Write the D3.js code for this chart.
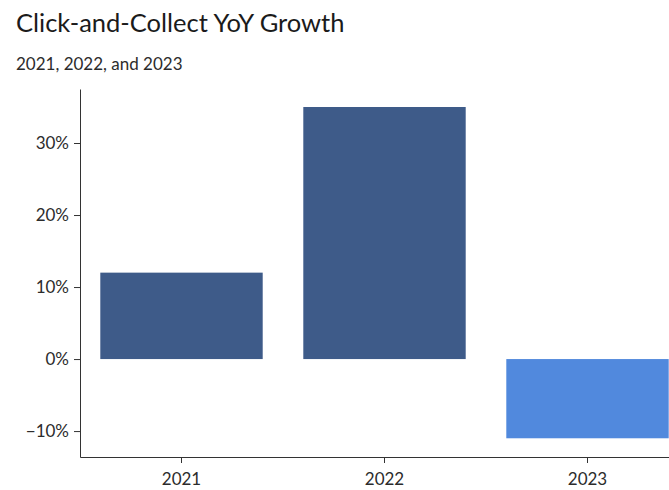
<!DOCTYPE html>
<html>
<head>
<meta charset="utf-8">
<script src="https://cdn.jsdelivr.net/npm/d3@7"></script>
<style>
	body { margin: 0; background: #fff; }
	svg { display: block; font-family: Lato, 'Open Sans', sans-serif; }
	.tick text { fill: #2c2c2c; }
</style>
</head>
<body>
<svg id="chart" width="669" height="490"></svg>
<script>
const years = ['2021', '2022', '2023'];
const growth = [12, 35, -11];
const yTicks = [-10, 0, 10, 20, 30];

const margin = { top: 89, right: 0, bottom: 33, left: 80 };
const totalWidth = 669;
const totalHeight = 490;
const width = totalWidth - margin.left - margin.right;
const height = totalHeight - margin.top - margin.bottom;

const data = years.map((y, i) => ({ year: y, value: growth[i] }));

const xScale = d3
	.scaleBand()
	.domain(years)
	.range([0, width + 20])
	.paddingInner(0.2)
	.paddingOuter(0.1);
const yScale = d3.scaleLinear([-13.6, 37.5], [height, 0]);
const pct = d3.format('.0%');

const svg = d3.select('#chart');

/** TITLES ******************************************************************/
svg
	.append('text')
	.attr('x', 16)
	.attr('y', 32)
	.attr('font-size', 25.5)
	.attr('fill', '#1b1b1b')
	.text('Click-and-Collect YoY Growth');
svg
	.append('text')
	.attr('x', 16)
	.attr('y', 70)
	.attr('font-size', 17)
	.attr('fill', '#2c2c2c')
	.text('2021, 2022, and 2023');

const g = svg
	.append('g')
	.attr('transform', `translate(${margin.left}, ${margin.top})`);

/** BARS ********************************************************************/
g.selectAll('.bar')
	.data(data)
	.enter()
	.append('rect')
	.attr('class', 'bar')
	.attr('x', (d) => xScale(d.year))
	.attr('width', xScale.bandwidth())
	.attr('y', (d) => yScale(Math.max(0, d.value)))
	.attr('height', (d) => Math.abs(yScale(d.value) - yScale(0)))
	.attr('fill', (d) => (d.value < 0 ? '#5189dd' : '#3e5b89'));

/** AXES ********************************************************************/
const leftAxis = d3
	.axisLeft(yScale)
	.tickValues(yTicks)
	.tickSize(6)
	.tickSizeOuter(0)
	.tickPadding(5)
	.tickFormat((d) => pct(d / 100));
g.append('g')
	.call(leftAxis)
	.attr('font-family', null)
	.attr('font-size', 17)
	.call((a) => a.selectAll('line, path').attr('stroke', '#333'));

const bottomAxis = d3.axisBottom(xScale).tickSize(6).tickSizeOuter(0).tickPadding(10);
g.append('g')
	.attr('transform', `translate(0, ${height})`)
	.call(bottomAxis)
	.attr('font-family', null)
	.attr('font-size', 17)
	.call((a) => a.selectAll('line, path').attr('stroke', '#333'));
</script>
</body>
</html>
